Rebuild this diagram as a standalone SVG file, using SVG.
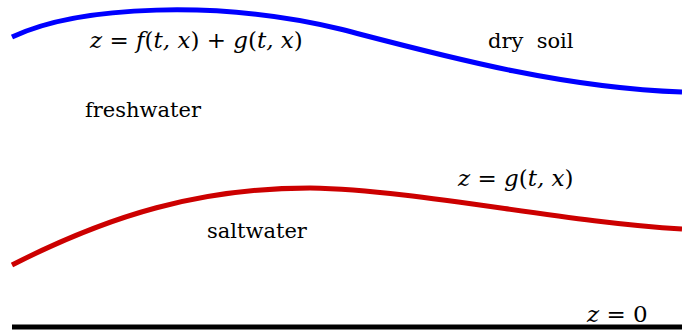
<svg xmlns="http://www.w3.org/2000/svg" width="682" height="331" viewBox="0 0 682 331">
<style>
text{font-family:"DejaVu Serif",serif;font-size:21px;fill:#000}
.m{font-size:23px}
.i{font-style:italic}
.c{fill:none;stroke-width:5}
</style>
<rect width="682" height="331" fill="#fff"/>
<g id="connectors">
<path id="fresh-boundary" class="c" stroke="#0000ff" d="M12,37 C80,5 220,0 340,29 C440,55 560,88 682,92"/>
<path id="salt-boundary" class="c" stroke="#cc0000" d="M12,265 C110,215 200,188 310,188 C420,190 560,222 682,229"/>
<line id="bottom" x1="12" y1="327" x2="682" y2="327" stroke="#000" stroke-width="5"/>
</g>
<g id="label-f"><text class="m" x="90" y="48"><tspan class="i">z</tspan> = <tspan class="i">f</tspan>(<tspan class="i">t, x</tspan>) + <tspan class="i">g</tspan>(<tspan class="i">t, x</tspan>)</text></g>
<g id="dry-soil"><text x="488" y="48" xml:space="preserve">dry  soil</text></g>
<g id="freshwater"><text x="85" y="117">freshwater</text></g>
<g id="label-g"><text class="m" x="458" y="186"><tspan class="i">z</tspan> = <tspan class="i">g</tspan>(<tspan class="i">t, x</tspan>)</text></g>
<g id="saltwater"><text x="207" y="238">saltwater</text></g>
<g id="label-0"><text class="m" x="587" y="322"><tspan class="i">z</tspan> = 0</text></g>
</svg>
